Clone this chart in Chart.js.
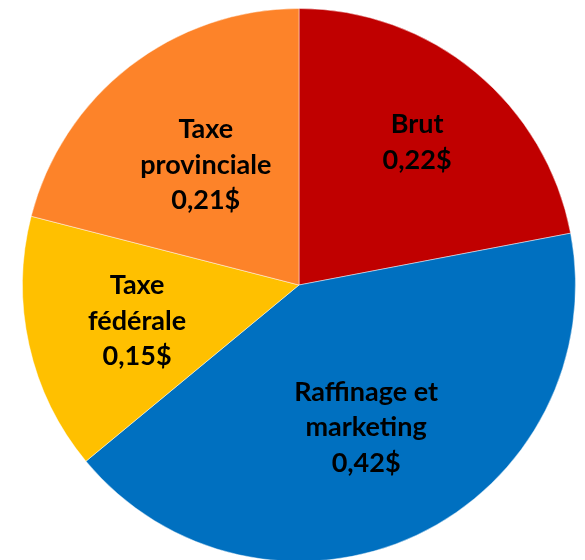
<!DOCTYPE html>
<html lang="fr">
<head>
	<meta charset="UTF-8"/>
	<title>Prix de l'essence</title>
	<script src="https://cdn.jsdelivr.net/npm/chart.js"></script>
	<style>
		html, body {
			margin: 0;
			padding: 0;
			background: #ffffff;
			overflow: hidden;
		}
		canvas {
			display: block;
		}
	</style>
</head>
<body>
<canvas id="pie" width="585" height="564"></canvas>

<script>
	// Composantes du prix, chaque nom découpé en lignes
	const categories = [
		["Brut"],
		["Raffinage et", "marketing"],
		["Taxe", "fédérale"],
		["Taxe", "provinciale"]
	];
	const values = [0.22, 0.42, 0.15, 0.21];
	const colors = ["#C00000", "#0070C0", "#FFC000", "#FD8329"];

	// Distance du libellé au centre, en fraction du rayon
	const labelRadius = [0.67, 0.57, 0.6, 0.55];

	function formatPrice(v) {
		return v.toFixed(2).replace(".", ",") + "$";
	}

	const sliceLabels = {
		id: "sliceLabels",
		afterDatasetsDraw(chart) {
			const ctx = chart.ctx;
			const meta = chart.getDatasetMeta(0);
			ctx.save();
			ctx.font = "bold 27px Lato, 'Liberation Sans', sans-serif";
			ctx.fillStyle = "#000000";
			ctx.textAlign = "center";
			ctx.textBaseline = "middle";
			const lineH = 35.5;
			meta.data.forEach((arc, i) => {
				const p = arc.getProps(["x", "y", "startAngle", "endAngle", "outerRadius"], true);
				const mid = (p.startAngle + p.endAngle) / 2;
				const r = p.outerRadius * labelRadius[i];
				const cx = p.x + Math.cos(mid) * r;
				const cy = p.y + Math.sin(mid) * r;
				const lines = categories[i].concat([formatPrice(values[i])]);
				const top = cy - (lines.length - 1) * lineH / 2;
				lines.forEach((t, k) => ctx.fillText(t, cx, top + k * lineH));
			});
			ctx.restore();
		}
	};

	new Chart(document.getElementById("pie"), {
		type: "pie",
		data: {
			labels: categories.map(c => c.join(" ")),
			datasets: [{
				data: values,
				backgroundColor: colors,
				borderColor: "rgba(255, 255, 255, 0.45)",
				borderWidth: 1
			}]
		},
		options: {
			responsive: false,
			animation: false,
			layout: {
				padding: { left: 22, right: 9, top: 8, bottom: 2 }
			},
			plugins: {
				legend: { display: false },
				tooltip: { enabled: false }
			}
		},
		plugins: [sliceLabels]
	});
</script>
</body>
</html>
